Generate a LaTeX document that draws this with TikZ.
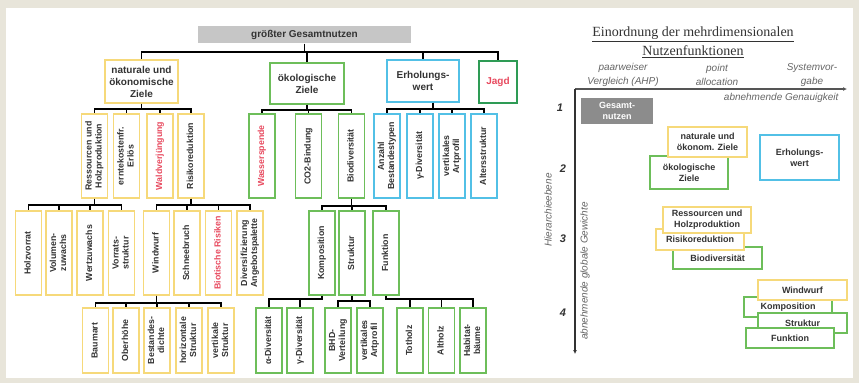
\documentclass[tikz,border=0pt]{standalone}
\usepackage{fontspec}
\setmainfont{Liberation Serif}
\setsansfont{Liberation Sans}
\usepackage{xcolor}
\usepackage{graphicx}
\usetikzlibrary{arrows.meta}
\definecolor{paper}{HTML}{E8E5DA}
\definecolor{topgray}{HTML}{C6C6C6}
\definecolor{rootgray}{HTML}{8C8C8C}
\definecolor{natyellow}{HTML}{F6D97A}
\definecolor{okogreen}{HTML}{6DBE5A}
\definecolor{erhblue}{HTML}{52C0E6}
\definecolor{jagdgreen}{HTML}{2E9B55}
\definecolor{alert}{HTML}{E84A5F}
\definecolor{ink}{HTML}{333333}
\definecolor{axisgray}{HTML}{555555}
\definecolor{notegray}{HTML}{666666}
\newcommand{\vlab}[1]{\rotatebox{90}{\begin{tabular}{@{}c@{}}#1\end{tabular}}}
\tikzset{
  goalbox/.style={draw,line width=1.6pt,fill=white,align=center,inner sep=0pt,text=ink,
                  font=\sffamily\bfseries\fontsize{10}{12}\selectfont},
  leafbox/.style={goalbox,minimum width=26pt,minimum height=84pt,
                  font=\sffamily\bfseries\fontsize{8.8}{10}\selectfont},
  lowbox/.style={leafbox,minimum height=65pt},
  rankbox/.style={goalbox,font=\sffamily\bfseries\fontsize{9}{11}\selectfont},
  natbox/.style={draw=natyellow},
  okobox/.style={draw=okogreen},
  erhbox/.style={draw=erhblue},
  redtext/.style={text=alert},
  link/.style={line width=1.5pt,black},
  axis/.style={-{Latex[length=4pt,width=4pt]},line width=1.4pt,axisgray},
  note/.style={font=\sffamily\itshape\fontsize{10}{14}\selectfont,text=notegray,align=center},
  level/.style={font=\sffamily\bfseries\itshape\fontsize{11}{13}\selectfont,text=ink},
}

\begin{document}
\begin{tikzpicture}[x=1pt,y=-1pt]

\fill[paper] (0,0) rectangle (859,383);
\fill[white] (6,8) rectangle (853,378);
\useasboundingbox (0,0) rectangle (859,383);

% ---- hierarchy tree
\node[goalbox, draw=none, fill=topgray, minimum width=213pt, minimum height=17pt] (top) at (304.5,34.5) {größter Gesamtnutzen};

\node[goalbox, natbox, minimum width=73pt, minimum height=43pt] (nat) at (141.5,81.5) {naturale und\\ökonomische\\Ziele};
\node[goalbox, okobox, minimum width=74pt, minimum height=41pt] (oko) at (307,83.5) {ökologische\\Ziele};
\node[goalbox, erhbox, minimum width=72pt, minimum height=42pt] (erh) at (423,81) {Erholungs-\\wert};
\node[goalbox, draw=jagdgreen, redtext, minimum width=38pt, minimum height=42pt] (jagd) at (498,82) {Jagd};

\node[leafbox, natbox] (res) at (94.5,156) {\vlab{Ressourcen und\\Holzproduktion}};
\node[leafbox, natbox] (ernte) at (126.5,156) {\vlab{erntekostenfr.\\Erlös}};
\node[leafbox, natbox, redtext] (verj) at (160,156) {\vlab{Waldverjüngung}};
\node[leafbox, natbox] (risk) at (191,156) {\vlab{Risikoreduktion}};

\node[leafbox, okobox, redtext] (wasser) at (262,156) {\vlab{Wasserspende}};
\node[leafbox, okobox] (co2) at (308.5,156) {\vlab{CO2-Bindung}};
\node[leafbox, okobox] (bio) at (351.5,156) {\vlab{Biodiversität}};

\node[leafbox, erhbox] (anzahl) at (387,156) {\vlab{Anzahl\\Bestandestypen}};
\node[leafbox, erhbox] (gamma) at (420,156) {\vlab{γ-Diversität}};
\node[leafbox, erhbox] (profil) at (452,156) {\vlab{vertikales\\Artprofil}};
\node[leafbox, erhbox] (alter) at (484,156) {\vlab{Altersstruktur}};

\node[leafbox, natbox] (vorrat) at (28.5,253) {\vlab{Holzvorrat}};
\node[leafbox, natbox] (volzu) at (59,253) {\vlab{Volumen-\\zuwachs}};
\node[leafbox, natbox] (wertzu) at (90,253) {\vlab{Wertzuwachs}};
\node[leafbox, natbox] (vstrukt) at (121.5,253) {\vlab{Vorrats-\\struktur}};

\node[leafbox, natbox] (wind) at (156.5,253) {\vlab{Windwurf}};
\node[leafbox, natbox] (schnee) at (187,253) {\vlab{Schneebruch}};
\node[leafbox, natbox, redtext] (biot) at (218.5,253) {\vlab{Biotische Risiken}};
\node[leafbox, natbox] (divers) at (250,253) {\vlab{Diversifizierung\\Angebotspalette}};

\node[leafbox, okobox] (komp) at (322,253) {\vlab{Komposition}};
\node[leafbox, okobox] (strukt) at (352,253) {\vlab{Struktur}};
\node[leafbox, okobox] (funk) at (386,253) {\vlab{Funktion}};

\node[lowbox, natbox] (baum) at (95.5,340.5) {\vlab{Baumart}};
\node[lowbox, natbox] (ober) at (126,340.5) {\vlab{Oberhöhe}};
\node[lowbox, natbox] (dichte) at (157,340.5) {\vlab{Bestandes-\\dichte}};
\node[lowbox, natbox] (hor) at (189,340.5) {\vlab{horizontale\\Struktur}};
\node[lowbox, natbox] (vert) at (221,340.5) {\vlab{vertikale\\Struktur}};

\node[lowbox, okobox] (alpha) at (269,340.5) {\vlab{α-Diversität}};
\node[lowbox, okobox] (gamma2) at (300,340.5) {\vlab{γ-Diversität}};
\node[lowbox, okobox] (bhd) at (338,340.5) {\vlab{BHD-\\Verteilung}};
\node[lowbox, okobox] (profil2) at (370,340.5) {\vlab{vertikales\\Artprofil}};
\node[lowbox, okobox] (tot) at (410,340.5) {\vlab{Totholz}};
\node[lowbox, okobox] (alt) at (441.5,340.5) {\vlab{Altholz}};
\node[lowbox, okobox] (habitat) at (473,340.5) {\vlab{Habitat-\\bäume}};

% connectors: stem, bar, drop
\foreach \c in {nat,oko,erh,jagd} \draw[link] (top.south) -- ++(0,8) -| (\c.north);
\foreach \c in {res,ernte,verj,risk} \draw[link] (nat.south) -- ++(0,5) -| (\c.north);
\foreach \c in {wasser,co2,bio} \draw[link] (oko.south) -- ++(0,5) -| (\c.north);
\foreach \c in {anzahl,gamma,profil,alter} \draw[link] ([xshift=10pt]erh.south) -- ++(0,6) -| (\c.north);
\foreach \c in {vorrat,volzu,wertzu,vstrukt} \draw[link] (res.south) -- ++(0,6) -| (\c.north);
\foreach \c in {wind,schnee,biot,divers} \draw[link] (risk.south) -- ++(0,6) -| (\c.north);
\foreach \c in {komp,strukt,funk} \draw[link] (bio.south) -- ++(0,7) -| (\c.north);
\foreach \c in {baum,ober,dichte,hor,vert} \draw[link] (wind.south) -- ++(0,7) -| (\c.north);
\foreach \c in {alpha,gamma2} \draw[link] (komp.south) -- ++(0,3) -| (\c.north);
\foreach \c in {bhd,profil2} \draw[link] (strukt.south) -- ++(0,5) -| (\c.north);
\foreach \c in {tot,alt,habitat} \draw[link] (funk.south) -- ++(0,3) -| (\c.north);

% ---- ranking panel
\node[font=\rmfamily\fontsize{14}{19}\selectfont, text=ink, align=center] (title) at (693,42)
  {\underline{Einordnung der mehrdimensionalen}\\\underline{Nutzenfunktionen}};

\node[note] (ahp) at (623,75) {paarweiser\\Vergleich (AHP)};
\node[note] (point) at (717,75) {point\\allocation};
\node[note] (vorgabe) at (812,75) {Systemvor-\\gabe};

\coordinate (origin) at (575,89);
\coordinate (xend) at (847,89);
\coordinate (yend) at (575,354);
\draw[axis] (origin) -- (xend);
\draw[axis, ink] (origin) -- (yend);

\node[note, anchor=east] (genau) at (842,98) {abnehmende Genauigkeit};
\node[note, rotate=90] (gewicht) at (585,271) {abnehmende globale Gewichte};
\node[note, rotate=90] (ebene) at (548,210) {Hierarchieebene};

\node[level] (l1) at (560,108) {1};
\node[level] (l2) at (563,169) {2};
\node[level] (l3) at (563,239) {3};
\node[level] (l4) at (563,313) {4};

\node[rankbox, draw=none, fill=rootgray, text=white, minimum width=72pt, minimum height=26pt] (gesR) at (617,111) {Gesamt-\\nutzen};

\node[rankbox, okobox, minimum width=78pt, minimum height=33pt] (okoR) at (689,172.5) {ökologische\\Ziele};
\node[rankbox, natbox, minimum width=79pt, minimum height=30pt] (natR) at (707.5,142) {naturale und\\ökonom. Ziele};
\node[rankbox, erhbox, minimum width=79pt, minimum height=45pt] (erhR) at (799.5,157.5) {Erholungs-\\wert};

\node[rankbox, okobox, minimum width=89pt, minimum height=22pt] (bioR) at (717.5,258) {Biodiversität};
\node[rankbox, natbox, minimum width=88pt, minimum height=21pt] (riskR) at (700,239.5) {Risikoreduktion};
\node[rankbox, natbox, minimum width=88pt, minimum height=26pt] (resR) at (707,220) {Ressourcen und\\Holzproduktion};

\node[rankbox, okobox, minimum width=88pt, minimum height=20pt] (kompR) at (788,307) {Komposition};
\node[rankbox, natbox, minimum width=89pt, minimum height=20pt] (windR) at (802.5,290) {Windwurf};
\node[rankbox, okobox, minimum width=89pt, minimum height=20pt] (struktR) at (802.5,323) {Struktur};
\node[rankbox, okobox, minimum width=88pt, minimum height=20pt] (funkR) at (790,338) {Funktion};

\end{tikzpicture}
\end{document}
